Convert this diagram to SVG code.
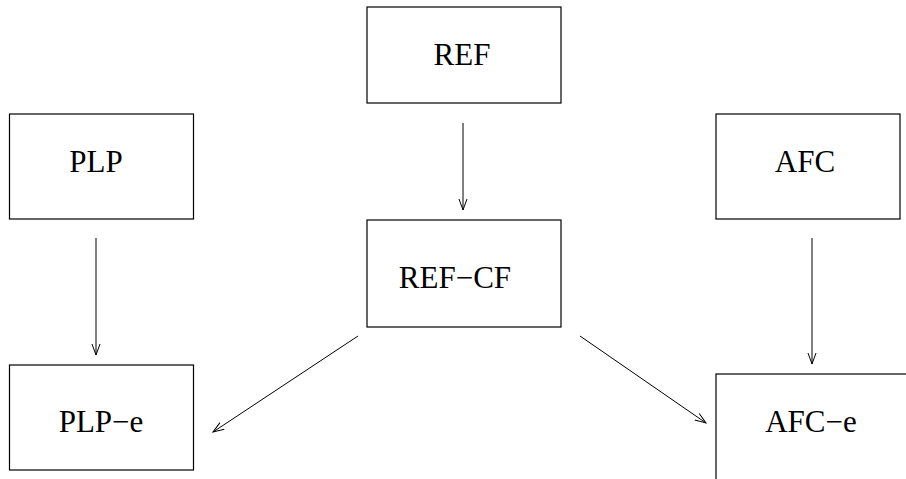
<svg xmlns="http://www.w3.org/2000/svg" width="906" height="479" viewBox="0 0 906 479">
<style>
.box{fill:#fff;stroke:#000;stroke-width:1.2}
.lbl{font-family:"Liberation Serif","Times New Roman",serif;font-size:31px;fill:#000;text-anchor:middle}
.edge{stroke:#000;stroke-width:1;fill:none;marker-end:url(#ah)}
</style>
<defs>
<marker id="ah" markerWidth="12" markerHeight="10" refX="11" refY="4.5" orient="auto" markerUnits="userSpaceOnUse">
<path d="M0,0.5 L11,4.5 L0,8.5" fill="none" stroke="#000" stroke-width="1"/>
</marker>
</defs>
<g id="REF"><rect class="box" x="367" y="7" width="194" height="96"/><text class="lbl" x="462" y="65">REF</text></g>
<g id="PLP"><rect class="box" x="9.5" y="114" width="184" height="105"/><text class="lbl" x="96" y="172">PLP</text></g>
<g id="AFC"><rect class="box" x="716" y="114" width="184" height="105"/><text class="lbl" x="805" y="172">AFC</text></g>
<g id="REF-CF"><rect class="box" x="367" y="220" width="194" height="107"/><text class="lbl" x="455" y="288">REF−CF</text></g>
<g id="PLP-e"><rect class="box" x="9.5" y="365" width="184" height="105"/><text class="lbl" x="101" y="432">PLP−e</text></g>
<g id="AFC-e"><rect class="box" x="716" y="374" width="200" height="120"/><text class="lbl" x="811" y="432">AFC−e</text></g>
<g id="connectors">
<line class="edge" x1="463" y1="123" x2="463" y2="210"/>
<line class="edge" x1="96" y1="238" x2="96" y2="355"/>
<line class="edge" x1="812" y1="238" x2="812" y2="364"/>
<line class="edge" x1="358" y1="336" x2="213" y2="432"/>
<line class="edge" x1="580" y1="336" x2="706" y2="423"/>
</g>
</svg>
